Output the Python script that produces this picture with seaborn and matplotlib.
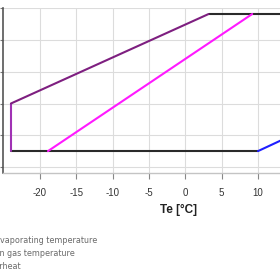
import matplotlib
matplotlib.use("Agg")
import matplotlib.pyplot as plt
import seaborn as sns
import pandas as pd

# Envelope segments (Te [°C], Tc)
purple_te = [-24.0, -24.0, 3.2]
purple_tc = [15.0, 30.0, 58.2]
top_te = [3.2, 18.0]
top_tc = [58.2, 58.2]
bottom_te = [-24.0, 10.0]
bottom_tc = [15.0, 15.0]
blue_te = [10.0, 16.0]
blue_tc = [15.0, 21.4]
magenta_te = [-18.9, 9.2]
magenta_tc = [15.0, 58.2]

x_ticks = [-20, -15, -10, -5, 0, 5, 10]
y_ticks = [10, 20, 30, 40, 50, 60]
legend_labels = ["Evaporating temperature", "Return gas temperature", "Superheat"]

sns.set_style("whitegrid")
plt.rcParams['font.family'] = ['Liberation Sans', 'DejaVu Sans']

fig = plt.figure(figsize=(2.8, 2.8), dpi=100)
ax = fig.add_axes([3/280, 107/280, 352/280, 165/280])

def seg(te, tc, color, lw=1.5):
    df = pd.DataFrame({"Te": te, "Tc": tc})
    sns.lineplot(data=df, x="Te", y="Tc", sort=False, estimator=None,
                 color=color, linewidth=lw, ax=ax)

seg(bottom_te, bottom_tc, "#2a2a2a")
seg(top_te, top_tc, "#2a2a2a")
seg(purple_te[:2], purple_tc[:2], "#a032b4")
seg(purple_te[1:], purple_tc[1:], "#7e1f80")
seg(blue_te, blue_tc, "#1f1fff")
seg(magenta_te, magenta_tc, "#ff1aff")

ax.set_xlim(-25.09, 23.35)
ax.set_ylim(8.1, 60.1)
ax.set_xticks(x_ticks)
ax.set_yticks(y_ticks)
ax.set_xticklabels([str(t) for t in x_ticks], fontsize=7, color="#333333")
ax.set_yticklabels([])
# grid line beyond last labelled tick
ax.axvline(15, color="#dcdcdc", linewidth=0.8, zorder=0)
ax.grid(True, color="#dcdcdc", linewidth=0.8)
ax.tick_params(axis="x", length=4, width=0.8, color="#888888", pad=7, bottom=True)
ax.tick_params(axis="y", length=2.5, width=0.8, color="#777777", pad=2, left=True)
for s in ["top", "right"]:
    ax.spines[s].set_visible(False)
ax.spines["left"].set_color("#555555")
ax.spines["left"].set_linewidth(1.2)
ax.spines["bottom"].set_color("#c4c4c4")
ax.spines["bottom"].set_linewidth(1.0)
ax.set_xlabel("Te [°C]", fontsize=8.5, fontweight="bold", color="#222222", labelpad=4)
ax.set_ylabel("")

ys = [240.5, 253.5, 266.5]
xs = [97, 75, 21]
for lab, x, y in zip(legend_labels, xs, ys):
    fig.text(x/280, 1 - y/280, lab, ha="right", va="center", fontsize=5.8,
             color="#6a6a6a", family=["DejaVu Sans"])

fig.savefig("out.png", dpi=100)
